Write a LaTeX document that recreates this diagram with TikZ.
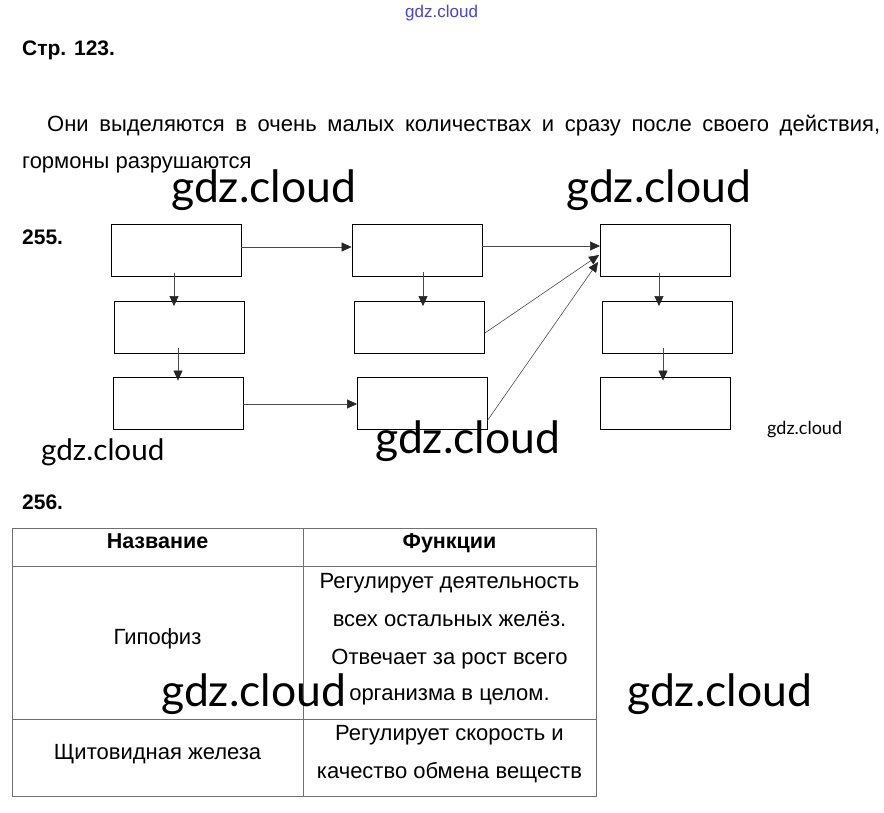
\documentclass[tikz,border=0pt]{standalone}
\usepackage{fontspec}
\setmainfont{Liberation Sans}
\newfontfamily\wmfont{Lato}
\usetikzlibrary{arrows.meta, positioning, calc}
\definecolor{linegray}{HTML}{4a4a4a}
\definecolor{gridgray}{HTML}{707070}
\definecolor{wmblue}{HTML}{4646d2}

\begin{document}
\begin{tikzpicture}[x=1pt, y=-1pt,
    box/.style={draw, line width=0.9pt, minimum width=130pt, minimum height=52pt, inner sep=0pt},
    arr/.style={-{Triangle[length=10pt, width=9pt, color=black!85]}, draw=linegray, line width=0.6pt},
    head/.style={font=\bfseries\fontsize{21}{21}\selectfont, anchor=base west, inner sep=0pt},
    para/.style={font=\fontsize{22}{22}\selectfont, anchor=base west, inner sep=0pt},
    cell/.style={font=\fontsize{22}{22}\selectfont, anchor=base, inner sep=0pt},
    cellhead/.style={cell, font=\bfseries\fontsize{21.5}{21.5}\selectfont},
    wm/.style={font=\wmfont\fontsize{44.5}{44.5}\selectfont, anchor=base west, inner sep=0pt}]
  \useasboundingbox[fill=white] (0,0) rectangle (884,812);

  \node[anchor=base west, inner sep=0pt, text=wmblue, font=\fontsize{17}{17}\selectfont] (wm0) at (405,17) {gdz.cloud};
  \node[head] (page) at (22,55) {Стр. 123.};
  \node[para] (line1) at (47,131) {\makebox[833pt][s]{Они выделяются в очень малых количествах и сразу после своего действия,}};
  \node[para] (line2) at (22,168) {гормоны разрушаются};

  \node[head] (n255) at (22,244) {255.};
  \foreach \nm/\x/\y in {b11/176/250, b12/179.5/327.5, b13/178/403,
                         b21/417/250, b22/419.5/327.5, b23/422.5/403,
                         b31/665.5/250, b32/667.5/327.5, b33/665.5/403}
    \node[box] (\nm) at (\x,\y) {};

  \foreach \a/\b/\dx/\ya/\yb in {b11/b12/-2/-3/5, b12/b13/-1.5/-6/4, b21/b22/6/-4/5,
                                 b31/b32/-6.5/-3/5, b32/b33/-4.5/-6/4}
    \draw[arr] ($(\a.south)+(\dx,\ya)$) -- ($(\a.south |- \b.north)+(\dx,\yb)$);
  \draw[arr] ($(b11.east)+(0,-3)$) -- ($(b21.west)+(0,-3)$);
  \draw[arr] ($(b13.east)+(0,1)$) -- ($(b23.west)+(0,1)$);
  \draw[arr] ($(b21.east)+(0,-4)$) -- ($(b31.west)+(0,-4)$);
  \draw[arr] ($(b22.east)+(0,5.5)$) -- ($(b31.west)+(-1,5)$);
  \draw[arr] ($(b23.south east)+(-0.5,-9)$) -- ($(b31.west)+(-2,12)$);

  \node[head] (n256) at (22,509) {256.};
  \draw[gridgray, line width=0.9pt] (12,528) rectangle (596,796);
  \draw[gridgray, line width=0.9pt] (303,528) -- (303,796);
  \draw[gridgray, line width=0.9pt] (12,566) -- (596,566) (12,719) -- (596,719);
  \node[cellhead] (h1) at (157.5,548) {Название};
  \node[cellhead] (h2) at (449.5,548) {Функции};
  \node[cell] (g1) at (157.5,644) {Гипофиз};
  \foreach \y/\t in {588/Регулирует деятельность, 626/всех остальных желёз.,
                     664/Отвечает за рост всего, 700/организма в целом.}
    \node[cell] at (449.5,\y) {\t};
  \node[cell] (g2) at (157.5,759) {Щитовидная железа};
  \node[cell] (f2a) at (449.5,740) {Регулирует скорость и};
  \node[cell] (f2b) at (449.5,778) {качество обмена веществ};

  \node[wm] (wm1) at (171,202) {gdz.cloud};
  \node[wm] (wm2) at (566,202) {gdz.cloud};
  \node[wm, font=\wmfont\fontsize{29.6}{29.6}\selectfont] (wm3) at (41,460) {gdz.cloud};
  \node[wm] (wm4) at (375,453) {gdz.cloud};
  \node[wm, font=\wmfont\fontsize{18}{18}\selectfont] (wm5) at (767,434) {gdz.cloud};
  \node[wm] (wm6) at (161,706) {gdz.cloud};
  \node[wm] (wm7) at (627,706) {gdz.cloud};
\end{tikzpicture}
\end{document}
